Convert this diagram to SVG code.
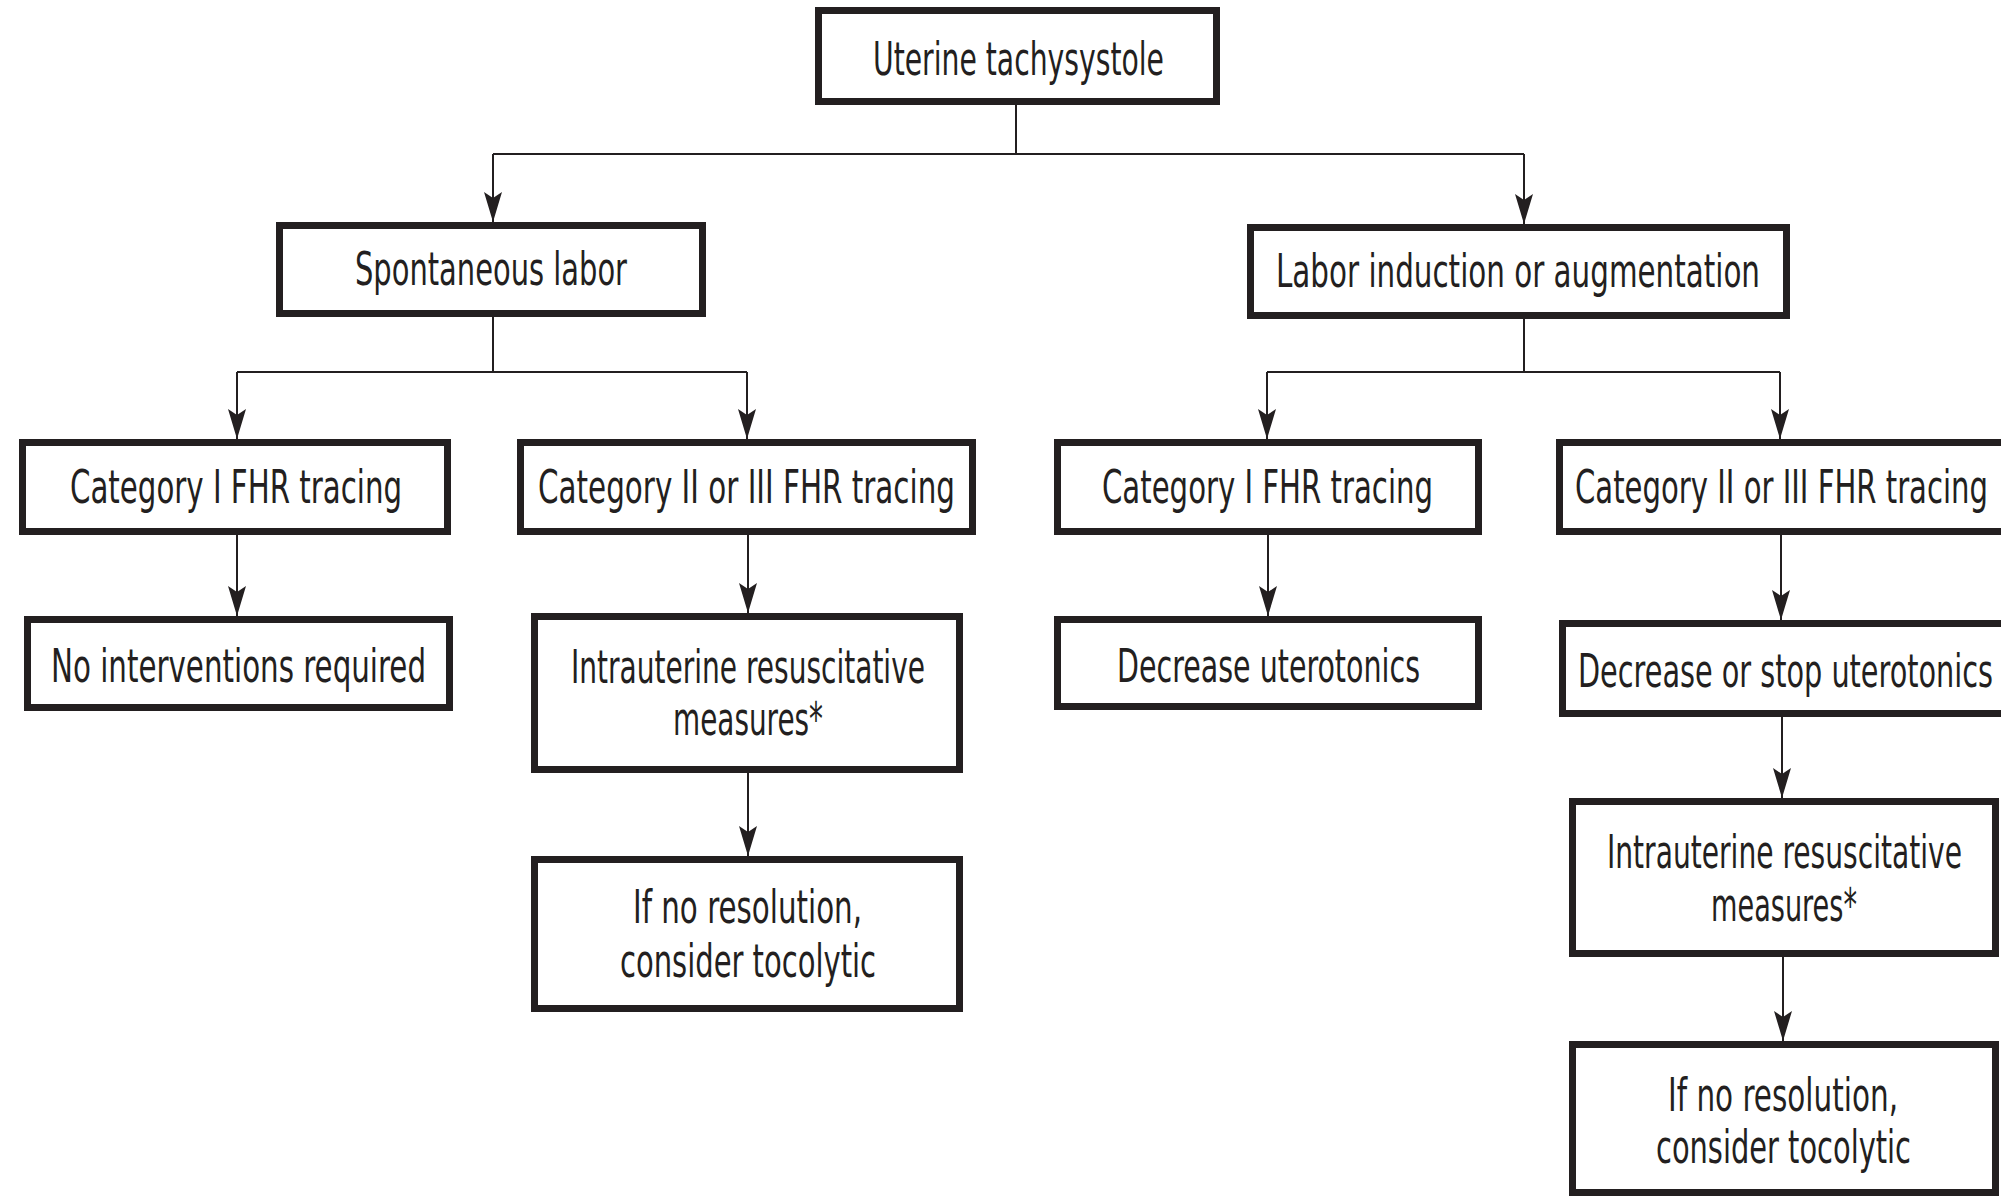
<svg xmlns="http://www.w3.org/2000/svg" width="2001" height="1196" viewBox="0 0 2001 1196">
<defs>
<style>
.box{fill:#fff;stroke:#231f20;stroke-width:7}
.lbl{font-family:"Liberation Sans Narrow","DejaVu Sans Condensed","Liberation Sans",sans-serif;font-size:46px;fill:#231f20;text-anchor:middle}
.con{fill:none;stroke:#231f20;stroke-width:2}
.arr{fill:none;stroke:#231f20;stroke-width:2;marker-end:url(#ah)}
</style>
<marker id="ah" viewBox="-31 -10 32 20" refX="0" refY="0" markerWidth="32" markerHeight="20" markerUnits="userSpaceOnUse" orient="auto">
<path d="M0,0 L-30,-9 L-24,0 L-30,9 Z" fill="#231f20"/>
</marker>
</defs>
<rect width="2001" height="1196" fill="#fff"/>
<g id="connectors">
<path class="con" d="M1016,105 V154 M493,154 H1524"/>
<path class="arr" d="M493,154 V222"/>
<path class="arr" d="M1524,154 V224"/>
<path class="con" d="M493,317 V372 M237,372 H747"/>
<path class="arr" d="M237,372 V439"/>
<path class="arr" d="M747,372 V439"/>
<path class="arr" d="M237,535 V616"/>
<path class="arr" d="M748,535 V613"/>
<path class="arr" d="M748,773 V856"/>
<path class="con" d="M1524,319 V372 M1267,372 H1780"/>
<path class="arr" d="M1267,372 V439"/>
<path class="arr" d="M1780,372 V439"/>
<path class="arr" d="M1268,535 V616"/>
<path class="arr" d="M1781,535 V620"/>
<path class="arr" d="M1782,717 V798"/>
<path class="arr" d="M1783,957 V1041"/>
</g>
<g id="n-uterine">
<rect class="box" x="818.5" y="10.5" width="398" height="91"/>
<text class="lbl" x="1018.5" y="75" textLength="291" lengthAdjust="spacingAndGlyphs">Uterine tachysystole</text>
</g>
<g id="n-spontaneous">
<rect class="box" x="279.5" y="225.5" width="423" height="88"/>
<text class="lbl" x="491" y="285" textLength="272" lengthAdjust="spacingAndGlyphs">Spontaneous labor</text>
</g>
<g id="n-induction">
<rect class="box" x="1250.5" y="227.5" width="536" height="88"/>
<text class="lbl" x="1518" y="287" textLength="484" lengthAdjust="spacingAndGlyphs">Labor induction or augmentation</text>
</g>
<g id="n-cat1-left">
<rect class="box" x="22.5" y="442.5" width="425" height="89"/>
<text class="lbl" x="236" y="503" textLength="332" lengthAdjust="spacingAndGlyphs">Category I FHR tracing</text>
</g>
<g id="n-cat23-left">
<rect class="box" x="520.5" y="442.5" width="452" height="89"/>
<text class="lbl" x="746.5" y="503" textLength="417" lengthAdjust="spacingAndGlyphs">Category II or III FHR tracing</text>
</g>
<g id="n-nointervention">
<rect class="box" x="27.5" y="619.5" width="422" height="88"/>
<text class="lbl" x="238.5" y="682" textLength="375" lengthAdjust="spacingAndGlyphs">No interventions required</text>
</g>
<g id="n-resus-left">
<rect class="box" x="534.5" y="616.5" width="425" height="153"/>
<text class="lbl" x="748" y="683" textLength="354" lengthAdjust="spacingAndGlyphs">Intrauterine resuscitative</text>
<text class="lbl" x="748" y="735" textLength="150" lengthAdjust="spacingAndGlyphs">measures*</text>
</g>
<g id="n-tocolytic-left">
<rect class="box" x="534.5" y="859.5" width="425" height="149"/>
<text class="lbl" x="747.5" y="923" textLength="229" lengthAdjust="spacingAndGlyphs">If no resolution,</text>
<text class="lbl" x="748" y="977" textLength="256" lengthAdjust="spacingAndGlyphs">consider tocolytic</text>
</g>
<g id="n-cat1-right">
<rect class="box" x="1057.5" y="442.5" width="421" height="89"/>
<text class="lbl" x="1267.5" y="503" textLength="331" lengthAdjust="spacingAndGlyphs">Category I FHR tracing</text>
</g>
<g id="n-cat23-right">
<rect class="box" x="1559.5" y="442.5" width="460" height="89"/>
<text class="lbl" x="1781.5" y="503" textLength="413" lengthAdjust="spacingAndGlyphs">Category II or III FHR tracing</text>
</g>
<g id="n-decrease">
<rect class="box" x="1057.5" y="619.5" width="421" height="87"/>
<text class="lbl" x="1268.5" y="682" textLength="303" lengthAdjust="spacingAndGlyphs">Decrease uterotonics</text>
</g>
<g id="n-decrease-stop">
<rect class="box" x="1562.5" y="623.5" width="460" height="90"/>
<text class="lbl" x="1785.5" y="687" textLength="415" lengthAdjust="spacingAndGlyphs">Decrease or stop uterotonics</text>
</g>
<g id="n-resus-right">
<rect class="box" x="1572.5" y="801.5" width="423" height="152"/>
<text class="lbl" x="1784.5" y="868" textLength="355" lengthAdjust="spacingAndGlyphs">Intrauterine resuscitative</text>
<text class="lbl" x="1784" y="921" textLength="146" lengthAdjust="spacingAndGlyphs">measures*</text>
</g>
<g id="n-tocolytic-right">
<rect class="box" x="1572.5" y="1044.5" width="423" height="148"/>
<text class="lbl" x="1783" y="1111" textLength="230" lengthAdjust="spacingAndGlyphs">If no resolution,</text>
<text class="lbl" x="1783.5" y="1163" textLength="255" lengthAdjust="spacingAndGlyphs">consider tocolytic</text>
</g>
</svg>
